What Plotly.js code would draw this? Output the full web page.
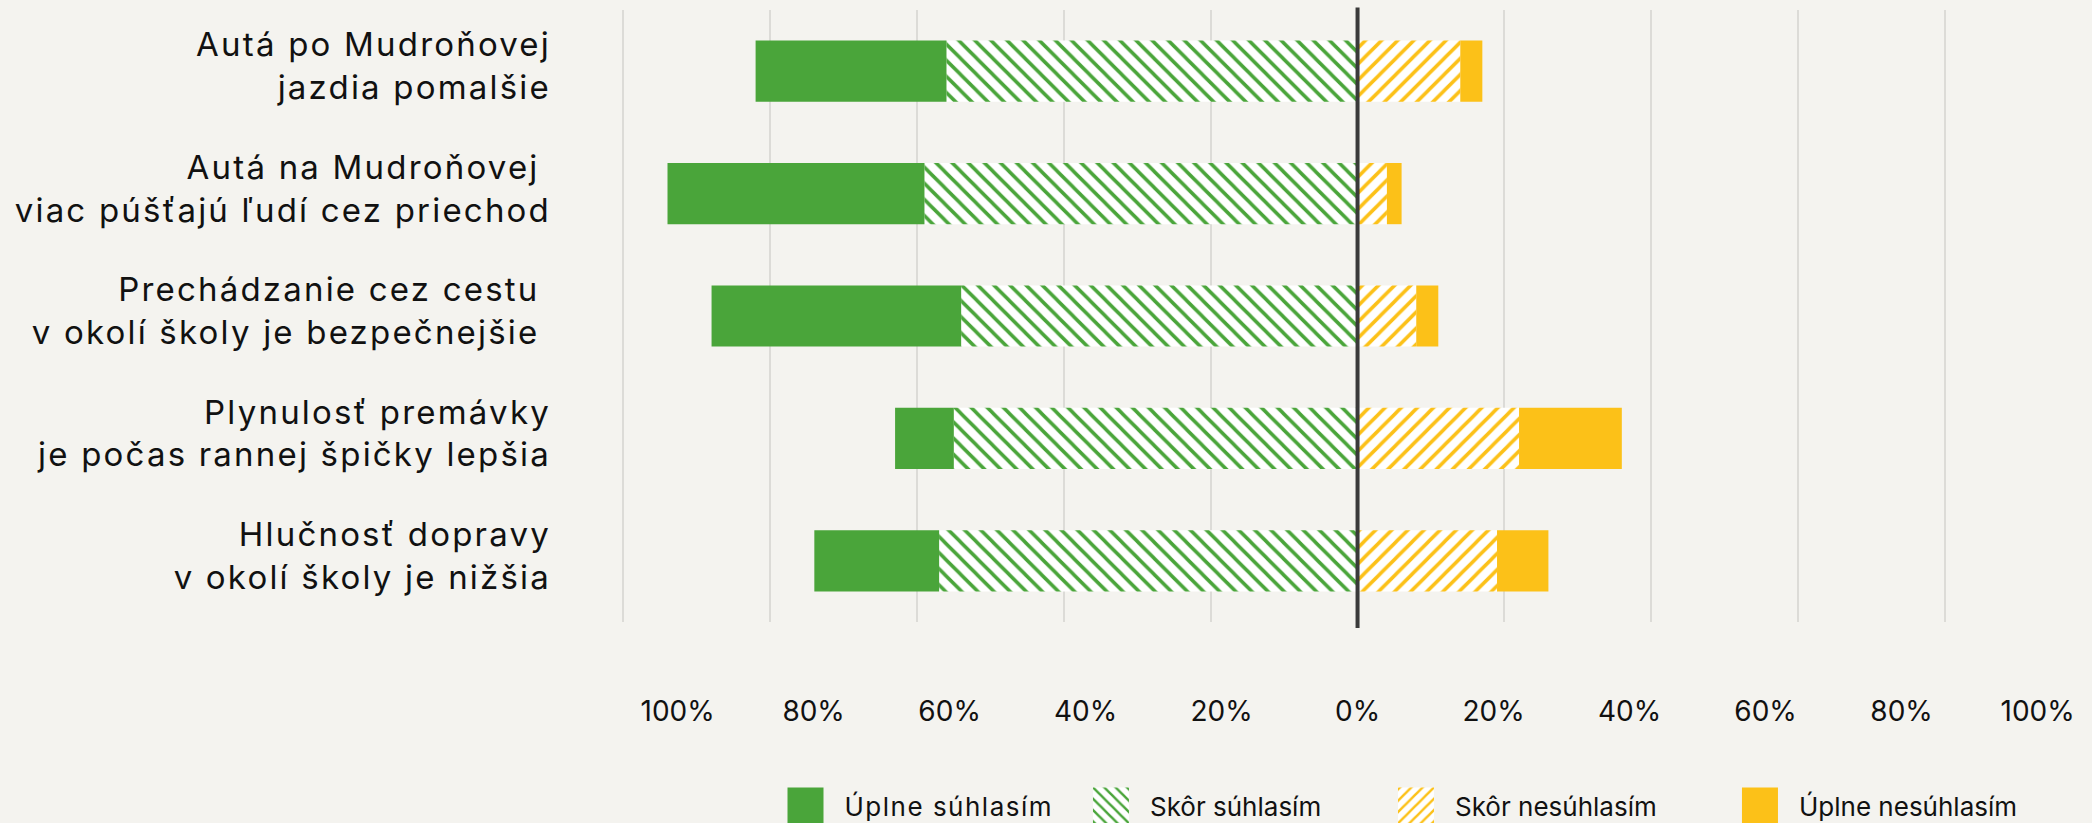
<!DOCTYPE html>
<html>
<head>
<meta charset="utf-8">
<script src="https://cdn.plot.ly/plotly-3.0.1.min.js"></script>
<style>
  html, body { margin: 0; padding: 0; background: #f4f3ef; }
  #chart { width: 2092px; height: 823px; }
  #chart .ytick text { letter-spacing: 2.2px; }
  #chart .legendtext { letter-spacing: 1.5px; }
</style>
</head>
<body>
<div id="chart"></div>
<script>
// ---- data ----
const categories = [
  "Autá po Mudroňovej<br>jazdia pomalšie",
  "Autá na Mudroňovej\u00a0<br>viac púšťajú ľudí cez priechod",
  "Prechádzanie cez cestu\u00a0<br>v okolí školy je bezpečnejšie\u00a0",
  "Plynulosť premávky<br>je počas rannej špičky lepšia",
  "Hlučnosť dopravy<br>v okolí školy je nižšia"
];
const seriesNames = ["Úplne súhlasím", "Skôr súhlasím", "Skôr nesúhlasím", "Úplne nesúhlasím"];
const uplneSuhlasim   = [26, 35, 34, 8, 17];
const skorSuhlasim    = [56, 59, 54, 55, 57];
const skorNesuhlasim  = [14, 4, 8, 22, 19];
const uplneNesuhlasim = [3, 2, 3, 14, 7];
const tickValues = [-100, -80, -60, -40, -20, 0, 20, 40, 60, 80, 100];
const tickLabels = ["100%", "80%", "60%", "40%", "20%", "0%", "20%", "40%", "60%", "80%", "100%"];

// ---- style ----
const GREEN = "#4aa53a";
const YELLOW = "#fcc118";
const BG = "#f4f3ef";
const FONT = "Inter, 'Noto Sans', sans-serif";
const neg = arr => arr.map(v => -v);

function barTrace(name, xvals, color, pattern, legendId, rank) {
  const marker = { color: pattern ? "#ffffff" : color, line: { width: 0 } };
  if (pattern) {
    marker.pattern = { shape: pattern, fgcolor: color, bgcolor: "#ffffff", size: 11.4, solidity: 0.31, fillmode: "replace" };
  }
  return {
    type: "bar", orientation: "h", name: name,
    x: xvals, y: categories, marker: marker,
    legend: legendId, legendrank: rank,
    hovertemplate: name + ": %{customdata}%<extra></extra>",
    customdata: xvals.map(v => Math.abs(v))
  };
}

const traces = [
  barTrace(seriesNames[1], neg(skorSuhlasim), GREEN, "\\", "legend2", 2),
  barTrace(seriesNames[0], neg(uplneSuhlasim), GREEN, null, "legend", 1),
  barTrace(seriesNames[2], skorNesuhlasim, YELLOW, "/", "legend3", 3),
  barTrace(seriesNames[3], uplneNesuhlasim, YELLOW, null, "legend4", 4),
  { type: "scatter", x: [], y: [], xaxis: "x2", yaxis: "y", showlegend: false, hoverinfo: "skip" }
];

function legendAt(x) {
  return {
    orientation: "h", xref: "paper", yref: "paper", x: x, y: -0.2614,
    xanchor: "left", yanchor: "top", bgcolor: "rgba(0,0,0,0)", borderwidth: 0,
    itemwidth: 68, entrywidth: 310, entrywidthmode: "pixels",
    font: { family: FONT, size: 26, color: "#111111" }
  };
}

const layout = {
  width: 2092, height: 823,
  paper_bgcolor: BG, plot_bgcolor: BG,
  margin: { l: 622, r: 0, t: 10, b: 201, autoexpand: false },
  barmode: "relative", bargap: 0.5,
  font: { family: FONT, color: "#111111" },
  showlegend: true,
  xaxis: {
    range: [-100.2, 100.05], tick0: 0, dtick: 20,
    showgrid: true, gridcolor: "#dcdbd7", gridwidth: 2,
    zeroline: false, showticklabels: false, ticks: "", showline: false, fixedrange: true
  },
  xaxis2: {
    overlaying: "x", anchor: "y", side: "bottom",
    range: [-108.18, 108.0],
    tickmode: "array", tickvals: tickValues, ticktext: tickLabels,
    showgrid: false, zeroline: false, showline: false, ticks: "",
    ticklabelstandoff: 70,
    tickfont: { family: FONT, size: 28, color: "#111111" }, fixedrange: true
  },
  yaxis: {
    type: "category", categoryorder: "array", categoryarray: categories,
    range: [4.5, -0.5],
    showgrid: false, zeroline: false, showline: false, ticks: "",
    ticklabelstandoff: 70, ticklabelshift: 5,
    tickfont: { family: FONT, size: 33, color: "#111111" }, fixedrange: true
  },
  shapes: [{
    type: "line", xref: "x", yref: "paper", x0: 0, x1: 0, y0: -0.0098, y1: 1.004,
    line: { color: "#3a3a3a", width: 4 }, layer: "above"
  }],
  legend: legendAt(0.0983),
  legend2: legendAt(0.3061),
  legend3: legendAt(0.5136),
  legend4: legendAt(0.7476)
};

function enlargeSwatches(gd) {
  gd.querySelectorAll("g.legendpoints path").forEach(p => p.setAttribute("d", "M18,18H-18V-18H18Z"));
}

const gd = document.getElementById("chart");
Plotly.newPlot(gd, traces, layout, { displayModeBar: false, staticPlot: true }).then(() => {
  enlargeSwatches(gd);
  gd.on("plotly_afterplot", () => enlargeSwatches(gd));
  setTimeout(() => enlargeSwatches(gd), 50);
  setTimeout(() => enlargeSwatches(gd), 300);
});
</script>
</body>
</html>
